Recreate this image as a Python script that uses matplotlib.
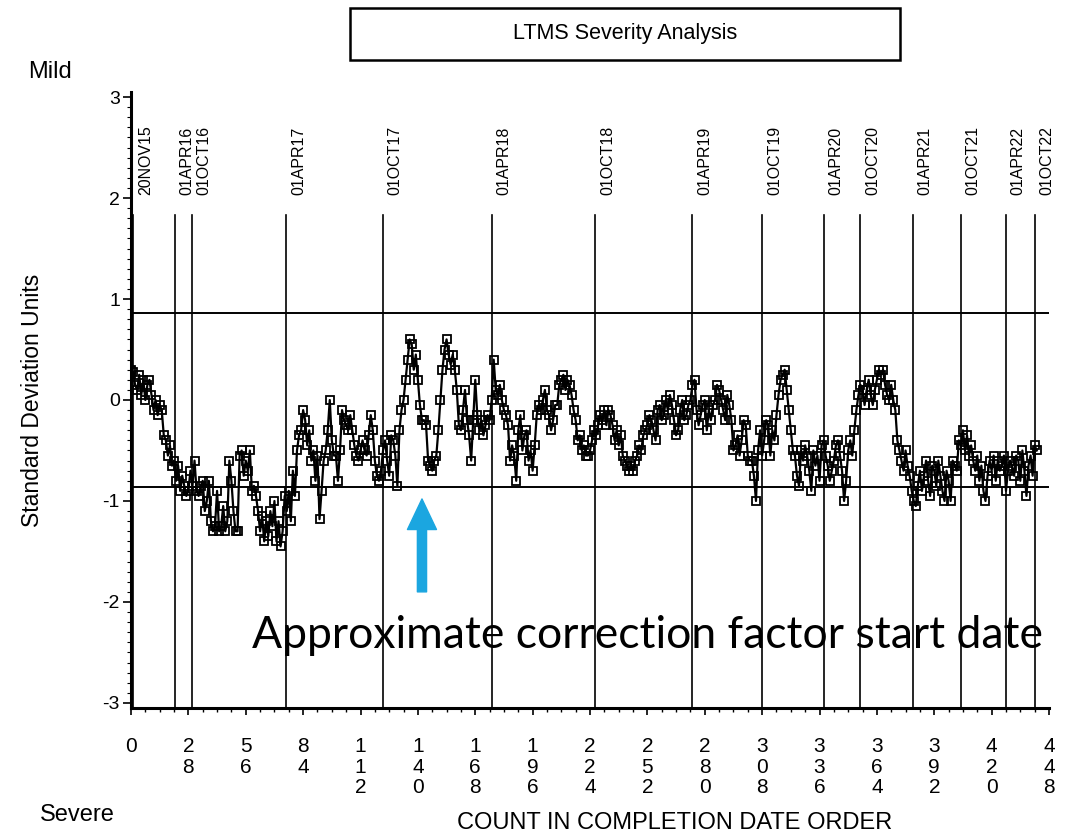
import numpy as np
import matplotlib
matplotlib.use('Agg')
import matplotlib.pyplot as plt
from matplotlib.patches import Rectangle
from matplotlib.ticker import MultipleLocator

plt.rcParams['font.family'] = ['Liberation Sans', 'DejaVu Sans']
plt.rcParams['axes.unicode_minus'] = False

# severity index in standard deviation units, one value per test, completion order
severity = [
    0.30, 0.28, 0.15, 0.10, 0.25, 0.05, 0.20, 0.00, 0.15, 0.20,
    0.05, -0.10, 0.00, -0.15, -0.05, -0.10, -0.35, -0.40, -0.55, -0.45,
    -0.65, -0.60, -0.80, -0.65, -0.90, -0.75, -0.85, -0.95, -0.90, -0.70,
    -0.85, -0.60, -0.90, -0.95, -0.85, -0.80, -1.10, -1.00, -0.80, -1.20,
    -1.30, -1.25, -0.90, -1.30, -1.25, -1.05, -1.30, -1.20, -0.60, -0.80,
    -1.10, -1.30, -1.30, -0.55, -0.50, -0.75, -0.60, -0.70, -0.50, -0.90,
    -0.85, -0.95, -1.10, -1.30, -1.15, -1.40, -1.20, -1.35, -1.10, -1.25,
    -1.00, -1.40, -1.20, -1.45, -1.30, -0.95, -1.10, -0.90, -1.20, -0.70,
    -0.95, -0.50, -0.35, -0.30, -0.10, -0.20, -0.45, -0.30, -0.60, -0.50,
    -0.80, -0.55, -1.18, -0.90, -0.60, -0.50, -0.30, 0.00, -0.40, -0.55,
    -0.55, -0.80, -0.50, -0.10, -0.20, -0.25, -0.30, -0.15, -0.30, -0.45,
    -0.55, -0.60, -0.50, -0.40, -0.50, -0.55, -0.35, -0.15, -0.30, -0.60,
    -0.75, -0.80, -0.70, -0.50, -0.40, -0.60, -0.75, -0.35, -0.40, -0.55,
    -0.85, -0.30, -0.10, 0.00, 0.20, 0.40, 0.60, 0.55, 0.30, 0.45,
    0.20, -0.05, -0.20, -0.20, -0.25, -0.60, -0.65, -0.70, -0.60, -0.55,
    -0.30, 0.00, 0.30, 0.50, 0.60, 0.45, 0.35, 0.45, 0.30, 0.10,
    -0.25, -0.30, -0.10, 0.10, -0.20, -0.35, -0.60, -0.20, 0.20, -0.15,
    -0.30, -0.20, -0.35, -0.25, -0.15, -0.20, 0.00, 0.40, 0.10, 0.05,
    0.15, 0.00, -0.10, -0.15, -0.25, -0.60, -0.45, -0.55, -0.80, -0.30,
    -0.15, -0.50, -0.35, -0.30, -0.60, -0.50, -0.70, -0.45, -0.15, -0.05,
    -0.10, 0.00, 0.10, -0.10, -0.15, -0.30, -0.20, -0.05, -0.05, 0.15,
    0.20, 0.25, 0.10, 0.20, 0.15, 0.05, -0.10, -0.20, -0.40, -0.35,
    -0.50, -0.45, -0.55, -0.55, -0.50, -0.40, -0.30, -0.35, -0.25, -0.15,
    -0.20, -0.10, -0.25, -0.10, -0.15, -0.25, -0.40, -0.30, -0.45, -0.35,
    -0.55, -0.60, -0.65, -0.70, -0.65, -0.70, -0.60, -0.55, -0.45, -0.50,
    -0.35, -0.30, -0.25, -0.15, -0.20, -0.30, -0.40, -0.10, -0.05, -0.20,
    -0.15, 0.00, -0.10, 0.05, -0.05, -0.20, -0.35, -0.30, -0.10, 0.00,
    -0.20, -0.15, -0.05, 0.00, 0.15, 0.20, -0.10, -0.25, -0.15, -0.05,
    0.00, -0.30, -0.10, -0.20, -0.05, 0.00, 0.15, 0.10, 0.00, -0.10,
    -0.20, 0.05, -0.05, -0.20, -0.50, -0.45, -0.35, -0.55, -0.40, -0.20,
    -0.25, -0.55, -0.60, -0.60, -0.75, -1.00, -0.50, -0.30, -0.55, -0.40,
    -0.20, -0.25, -0.55, -0.30, -0.40, -0.15, 0.05, 0.20, 0.25, 0.30,
    0.10, -0.10, -0.30, -0.50, -0.55, -0.75, -0.85, -0.50, -0.60, -0.45,
    -0.55, -0.70, -0.90, -0.50, -0.65, -0.55, -0.80, -0.45, -0.40, -0.55,
    -0.65, -0.80, -0.70, -0.60, -0.45, -0.40, -0.55, -0.70, -1.00, -0.80,
    -0.50, -0.40, -0.55, -0.30, -0.10, 0.05, 0.15, 0.10, -0.05, 0.10,
    0.20, 0.05, -0.05, 0.10, 0.20, 0.30, 0.25, 0.30, 0.15, 0.05,
    0.00, 0.15, 0.00, -0.10, -0.40, -0.50, -0.60, -0.70, -0.50, -0.65,
    -0.75, -0.90, -1.00, -1.05, -0.85, -0.70, -0.90, -0.75, -0.60, -0.80,
    -0.95, -0.65, -0.70, -0.85, -0.60, -0.75, -0.90, -1.00, -0.70, -0.80,
    -1.00, -0.60, -0.65, -0.70, -0.40, -0.45, -0.30, -0.50, -0.35, -0.55,
    -0.45, -0.60, -0.70, -0.55, -0.80, -0.65, -0.90, -1.00, -0.75, -0.60,
    -0.70, -0.55, -0.80, -0.60, -0.70, -0.65, -0.55, -0.90, -0.70, -0.60,
    -0.65, -0.75, -0.55, -0.60, -0.80, -0.50, -0.70, -0.95, -0.65, -0.55,
    -0.75, -0.45, -0.50,
]

# calendar boundaries (count at which each date was reached)
date_counts = [1, 21.5, 29.8, 75.7, 123, 176, 226.6, 274, 308, 338, 356, 381.5, 405, 427, 441]
date_labels = ['20NOV15', '01APR16', '01OCT16', '01APR17', '01OCT17', '01APR18',
               '01OCT18', '01APR19', '01OCT19', '01APR20', '01OCT20', '01APR21',
               '01OCT21', '01APR22', '01OCT22']

control_limit = 0.86
count_ticks = list(range(0, 449, 28))
correction_start = 142

W, H = 1071, 835
fig = plt.figure(figsize=(W / 100, H / 100), dpi=100)
ax = fig.add_axes([131 / W, 1 - 708 / H, (1049 - 131) / W, (708 - 92) / H])

x = np.arange(len(severity))
ax.plot(x, severity, color='black', lw=1.6, marker='s', ms=5.5,
        mfc='none', mec='black', mew=1.3, zorder=3)

for c in date_counts:
    ax.plot([c, c], [-3.05, 1.83], color='black', lw=1.2, zorder=2)
for c, lab in zip(date_counts, date_labels):
    ax.text(c + 6, 2.03, lab, rotation=90, ha='center', va='bottom',
            fontsize=11.5, clip_on=False)

ax.axhline(control_limit, color='black', lw=1.4, zorder=2)
ax.axhline(-control_limit, color='black', lw=1.4, zorder=2)

ax.set_xlim(0, 448)
ax.set_ylim(-3.05, 3.05)
ax.spines['top'].set_visible(False)
ax.spines['right'].set_visible(False)
ax.spines['left'].set_linewidth(2.2)
ax.spines['bottom'].set_linewidth(2.2)

ax.set_xticks(count_ticks)
ax.set_xticklabels(['\n'.join(str(t)) for t in count_ticks], linespacing=1.1,
                   va='top')
ax.xaxis.set_minor_locator(MultipleLocator(7))
ax.set_yticks([-3, -2, -1, 0, 1, 2, 3])
ax.yaxis.set_minor_locator(MultipleLocator(0.1))
ax.tick_params(axis='x', which='major', length=5, width=1.2, labelsize=15, pad=16)
ax.tick_params(axis='x', which='minor', length=3, width=1)
ax.tick_params(axis='y', which='major', length=6, width=1.2, labelsize=14, pad=2)
ax.tick_params(axis='y', which='minor', length=3, width=0.8)

# arrow marking where the correction factor begins
ax.annotate('', xy=(correction_start, -0.98), xytext=(correction_start, -1.9),
            arrowprops=dict(arrowstyle='simple,head_length=1.0,head_width=0.95,tail_width=0.3',
                            color='#1ba6e0', mutation_scale=22, shrinkA=0, shrinkB=0))

fig.text(647 / W, 1 - 636 / H, 'Approximate correction factor start date',
         family=['Lato', 'DejaVu Sans'], fontsize=32, ha='center', va='center')

# title box
fig.patches.append(Rectangle((350 / W, 1 - 60 / H), 550 / W, 52 / H,
                             transform=fig.transFigure, fill=False,
                             edgecolor='black', lw=1.8))
fig.text(625 / W, 1 - 34 / H, 'LTMS Severity Analysis', fontsize=15.5,
         ha='center', va='center')

fig.text(28 / W, 1 - 72 / H, 'Mild', fontsize=17, ha='left', va='center')
fig.text(40 / W, 1 - 815 / H, 'Severe', fontsize=17, ha='left', va='center')
fig.text(675 / W, 1 - 823 / H, 'COUNT IN COMPLETION DATE ORDER', fontsize=17,
         ha='center', va='center')
fig.text(33 / W, 1 - 400 / H, 'Standard Deviation Units', fontsize=16.5,
         rotation=90, ha='center', va='center')

fig.savefig('out.png', dpi=100)
